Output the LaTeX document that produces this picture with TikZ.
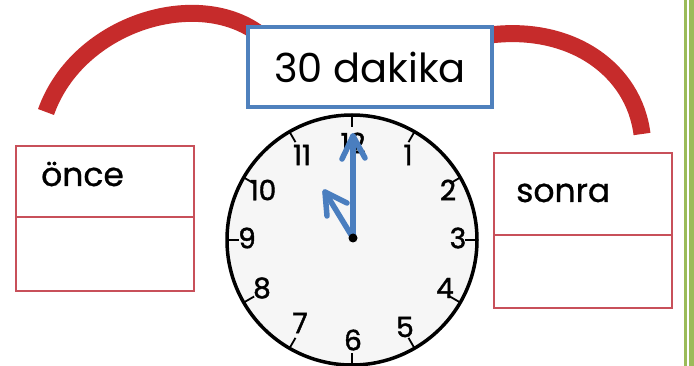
\documentclass[tikz,border=0pt]{standalone}
\usepackage{fontspec}
\setmainfont{Poppins}
\newfontfamily\heavyf[FakeBold=1.5]{Poppins}
\newfontfamily\medf[FakeBold=0.8]{Poppins}
\usetikzlibrary{arrows.meta,calc}
\definecolor{boxblue}{HTML}{4F81BD}
\definecolor{handblue}{HTML}{4A7EBF}
\definecolor{arcred}{HTML}{C62B2B}
\definecolor{boxred}{HTML}{C8505A}
\definecolor{bargreen}{HTML}{9BBB59}
\definecolor{clockface}{HTML}{F6F6F6}
\tikzset{
  redarc/.style={draw=arcred, line width=17pt, line cap=butt},
  redbox/.style={draw=boxred, line width=2.6pt},
  hand/.style={draw=handblue, line width=5.5pt, line cap=round, line join=round},
  numlbl/.style={font=\heavyf\fontsize{28}{28}\selectfont, inner sep=0pt},
  word/.style={font=\medf\fontsize{33}{33}\selectfont, inner sep=0pt, anchor=base west},
}
\begin{document}
\begin{tikzpicture}[x=1pt,y=-1pt]
\useasboundingbox (0,0) rectangle (694,366);
\fill[white] (0,0) rectangle (694,366);
% green bars
\fill[bargreen] (683.5,0) rectangle (686.5,366);
\fill[bargreen] (689,0) rectangle (694,366);
% red arcs
\draw[redarc] (46,112) .. controls (78,22) and (200,-14) .. (262,36);
\draw[redarc] (490,35) .. controls (572,25) and (634,70) .. (642,134);
% title box
\node[draw=boxblue, line width=3.5pt, fill=white, minimum width=244pt, minimum height=80pt,
  font=\fontsize{40}{40}\selectfont, inner sep=0pt] (title) at (370,67) {30 dakika};
% left box
\draw[redbox] (16,146) rectangle (194,291);
\draw[redbox] (16,217) -- (194,217);
\node[word] (once) at (41,186) {önce};
% right box
\draw[redbox] (494,153) rectangle (672,308);
\draw[redbox] (494,235) -- (672,235);
\node[word] (sonra) at (516,202) {sonra};
% clock
\coordinate (c) at (352,240);
\fill[clockface] (c) circle[radius=125];
\draw[line width=3.5pt] (c) circle[radius=125];
\foreach \i in {1,...,12}{
  \draw[line width=1.8pt] ($(c)+({30*\i}:125)$) -- ($(c)+({30*\i}:113)$);
}
\foreach \i/\xx/\yy in {12/353/143, 1/408/155, 2/448/190, 3/458/238, 4/445/288, 5/405/327,
  6/353/340, 7/300/323, 8/262/288, 9/247/238, 10/263/190, 11/302/155}{
  \node[numlbl] (n\i) at (\xx,\yy) {\i};
}
\coordinate (ctr) at (353,238);
\coordinate (mtip) at (353,136);
\coordinate (mw1) at (342,159);
\coordinate (mw2) at (365,158);
\coordinate (htip) at (325,192);
\coordinate (hw1) at (327,216);
\coordinate (hw2) at (347,203);
\draw[hand] (ctr) -- (mtip);
\draw[hand] (mw1) -- (mtip) -- (mw2);
\draw[hand] (ctr) -- (htip);
\draw[hand] (hw1) -- (htip) -- (hw2);
\fill (ctr) circle[radius=4.5];
\end{tikzpicture}
\end{document}
